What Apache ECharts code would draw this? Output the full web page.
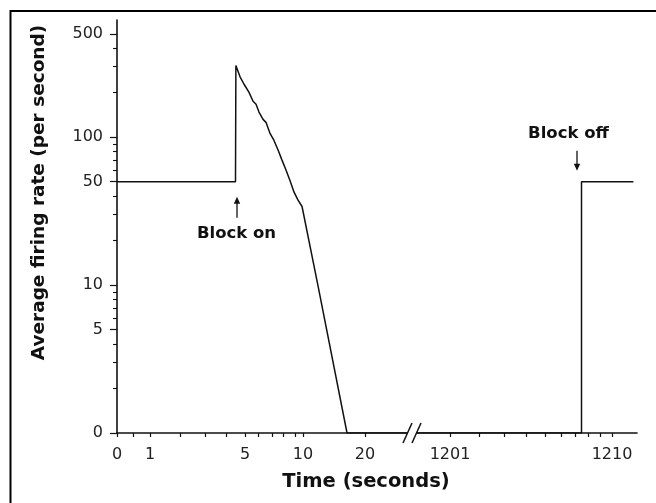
<!DOCTYPE html>
<html><head><meta charset="utf-8">
<script src="https://cdn.jsdelivr.net/npm/echarts@6/dist/echarts.min.js"></script>
<style>html,body{margin:0;padding:0;background:#fff;} #c{width:656px;height:503px;}</style>
</head><body><div id="c"></div>
<script>
// ---- data (time in seconds, firing rate per second) ----
const earlyTimes = [0, 4.5, 4.52, 4.74, 4.95, 5.31, 5.62, 5.85, 6.07, 6.36, 6.57, 6.86, 7.18, 7.55, 7.91, 8.25, 8.58, 8.92, 9.38, 9.88, 12.4, 17.1, 27];
const earlyRates = [50, 50, 305, 256, 228, 201, 175, 167, 148, 132, 126, 106, 95, 82, 70, 60, 51, 42.5, 37.5, 34, 10, 0, 0];
const lateTimes = [1199, 1207.5, 1207.5, 1211.8];
const lateRates = [0, 0, 50, 50];

const blockOnTime = 4.5, blockOffTime = 1207.5, blockRate = 50;

// ---- ticks ----
const xTickTimes = [0, 1, 5, 10, 20, 1201, 1210];
const xTickLabels = ['0', '1', '5', '10', '20', '1201', '1210'];
const xMinorTimes = [0.5, 2, 3, 4, 6, 7, 8, 9, 1202, 1203, 1204, 1205, 1206, 1207, 1208, 1209];
const yTickValues = [1, 5, 10, 50, 100, 500];
const yTickLabels = ['0', '5', '10', '50', '100', '500'];
const yMinorValues = [2, 3, 4, 6, 7, 8, 9, 20, 30, 40, 60, 70, 80, 90, 200, 300, 400];
const yMaxValue = 620;

// ---- broken, non-linear time scale (time -> axis units) ----
const xScaleTimes = [0, 0.5, 1, 2, 3, 4, 5, 6, 7, 8, 9, 10, 20, 27, 1199, 1201, 1202, 1203, 1204, 1205, 1206, 1207, 1208, 1209, 1210, 1212.1];
const xScaleUnits = [0, 16, 33, 63, 88, 109, 128, 141, 155, 166, 178, 186, 248, 290, 300, 333, 362, 387, 409, 428, 444, 458, 471, 483, 495, 520];

function toU(t) {
  const T = xScaleTimes, U = xScaleUnits;
  if (t <= T[0]) return U[0];
  for (let i = 0; i < T.length - 1; i++) {
    if (t <= T[i + 1]) return U[i] + (t - T[i]) / (T[i + 1] - T[i]) * (U[i + 1] - U[i]);
  }
  return U[U.length - 1];
}
function toY(v) { return Math.log10(Math.max(v, 1)); }

const chart = echarts.init(document.getElementById('c'), null, {renderer: 'canvas'});
const ink = '#111';
const numFont = {fontFamily: 'DejaVu Sans', fontSize: 16, color: '#222'};

const option = {
  animation: false,
  backgroundColor: '#fff',
  grid: {left: 117, top: 20, right: 19, bottom: 70, outerBoundsMode: 'none'},
  xAxis: [{
    type: 'value', min: 0, max: xScaleUnits[xScaleUnits.length - 1],
    axisLine: {lineStyle: {color: ink, width: 1.6}},
    axisTick: {customValues: xTickTimes.concat(xMinorTimes).map(toU), length: 4, lineStyle: {color: ink, width: 1.2}},
    axisLabel: Object.assign({
      customValues: xTickTimes.map(toU), margin: 14,
      formatter: function (val) {
        const i = xTickTimes.findIndex(t => Math.abs(toU(t) - val) < 1e-6);
        return i >= 0 ? xTickLabels[i] : '';
      }
    }, numFont),
    splitLine: {show: false},
    name: 'Time (seconds)', nameLocation: 'middle', nameGap: 39,
    nameTextStyle: {fontFamily: 'DejaVu Sans', fontWeight: 'bold', fontSize: 19.5, color: ink, padding: [0, 22, 0, 0]}
  }],
  yAxis: [{
    type: 'value', min: 0, max: Math.log10(yMaxValue), position: 'left',
    axisLine: {lineStyle: {color: ink, width: 1.6}},
    axisTick: {customValues: yTickValues.map(toY), length: 7, lineStyle: {color: ink, width: 1.2}},
    axisLabel: Object.assign({
      customValues: yTickValues.map(toY), margin: 14,
      formatter: function (val) {
        const i = yTickValues.findIndex(v => Math.abs(toY(v) - val) < 1e-6);
        return i >= 0 ? yTickLabels[i] : '';
      }
    }, numFont),
    splitLine: {show: false},
    name: 'Average firing rate (per second)', nameLocation: 'middle', nameGap: 68,
    nameTextStyle: {fontFamily: 'DejaVu Sans', fontWeight: 'bold', fontSize: 18.5, color: ink, padding: [0, 0, 0, 68]}
  }, {
    type: 'value', min: 0, max: Math.log10(yMaxValue), position: 'left', offset: 0,
    axisLine: {show: false},
    axisTick: {show: true, customValues: yMinorValues.map(toY), length: 4, lineStyle: {color: ink, width: 1.1}},
    axisLabel: {show: false},
    splitLine: {show: false}
  }],
  series: [{
    type: 'line', xAxisIndex: 0, yAxisIndex: 0, showSymbol: false, symbol: 'none',
    lineStyle: {color: ink, width: 1.5},
    data: earlyTimes.map((t, i) => [toU(t), toY(earlyRates[i])])
  }, {
    type: 'line', xAxisIndex: 0, yAxisIndex: 0, showSymbol: false, symbol: 'none',
    lineStyle: {color: ink, width: 1.5},
    data: lateTimes.map((t, i) => [toU(t), toY(lateRates[i])])
  }]
};
chart.setOption(option);

// ---- annotations positioned through the axes ----
const pOn = chart.convertToPixel({gridIndex: 0}, [toU(blockOnTime), toY(blockRate)]);
const pOff = chart.convertToPixel({gridIndex: 0}, [toU(blockOffTime), toY(blockRate)]);
const breakU = (toU(27) + toU(1199)) / 2;
const pBr = chart.convertToPixel({gridIndex: 0}, [breakU, 0]);
const lbl = {fontFamily: 'DejaVu Sans', fontWeight: 'bold', fontSize: 16.5, fill: ink, align: 'center', verticalAlign: 'middle'};

function arrow(x, tipY, tailY) {
  const dir = tailY > tipY ? 1 : -1;
  return [
    {type: 'line', z: 100, shape: {x1: x, y1: tipY + dir * 3, x2: x, y2: tailY}, style: {stroke: ink, lineWidth: 1.3}},
    {type: 'polygon', z: 100, shape: {points: [[x, tipY], [x - 3.2, tipY + dir * 7], [x + 3.2, tipY + dir * 7]]}, style: {fill: ink}}
  ];
}
const c1 = pBr[0] - 4.5, c2 = pBr[0] + 4.5, by = pBr[1];
const graphics = [
  {type: 'polyline', z: 100, shape: {points: [[10.5, 503], [10.5, 11], [656, 11]]}, style: {stroke: '#000', lineWidth: 2, fill: null}},
  {type: 'text', z: 100, x: pOn[0] + 1, y: pOn[1] + 52, style: Object.assign({text: 'Block on'}, lbl)},
  {type: 'text', z: 100, x: pOff[0] - 13, y: pOff[1] - 48, style: Object.assign({text: 'Block off'}, lbl)},
  {type: 'polygon', z: 99, shape: {points: [[c1 - 1, by + 3], [c2 - 1, by + 3], [c2 + 1, by - 3], [c1 + 1, by - 3]]}, style: {fill: '#fff'}},
  {type: 'line', z: 100, shape: {x1: c1 - 4.5, y1: by + 10, x2: c1 + 4.5, y2: by - 10}, style: {stroke: ink, lineWidth: 1.5}},
  {type: 'line', z: 100, shape: {x1: c2 - 4.5, y1: by + 10, x2: c2 + 4.5, y2: by - 10}, style: {stroke: ink, lineWidth: 1.5}}
].concat(arrow(pOn[0] + 1.5, pOn[1] + 15, pOn[1] + 36))
 .concat(arrow(pOff[0] - 4.5, pOff[1] - 11, pOff[1] - 31));
chart.setOption({graphic: graphics});
</script>
</body></html>
